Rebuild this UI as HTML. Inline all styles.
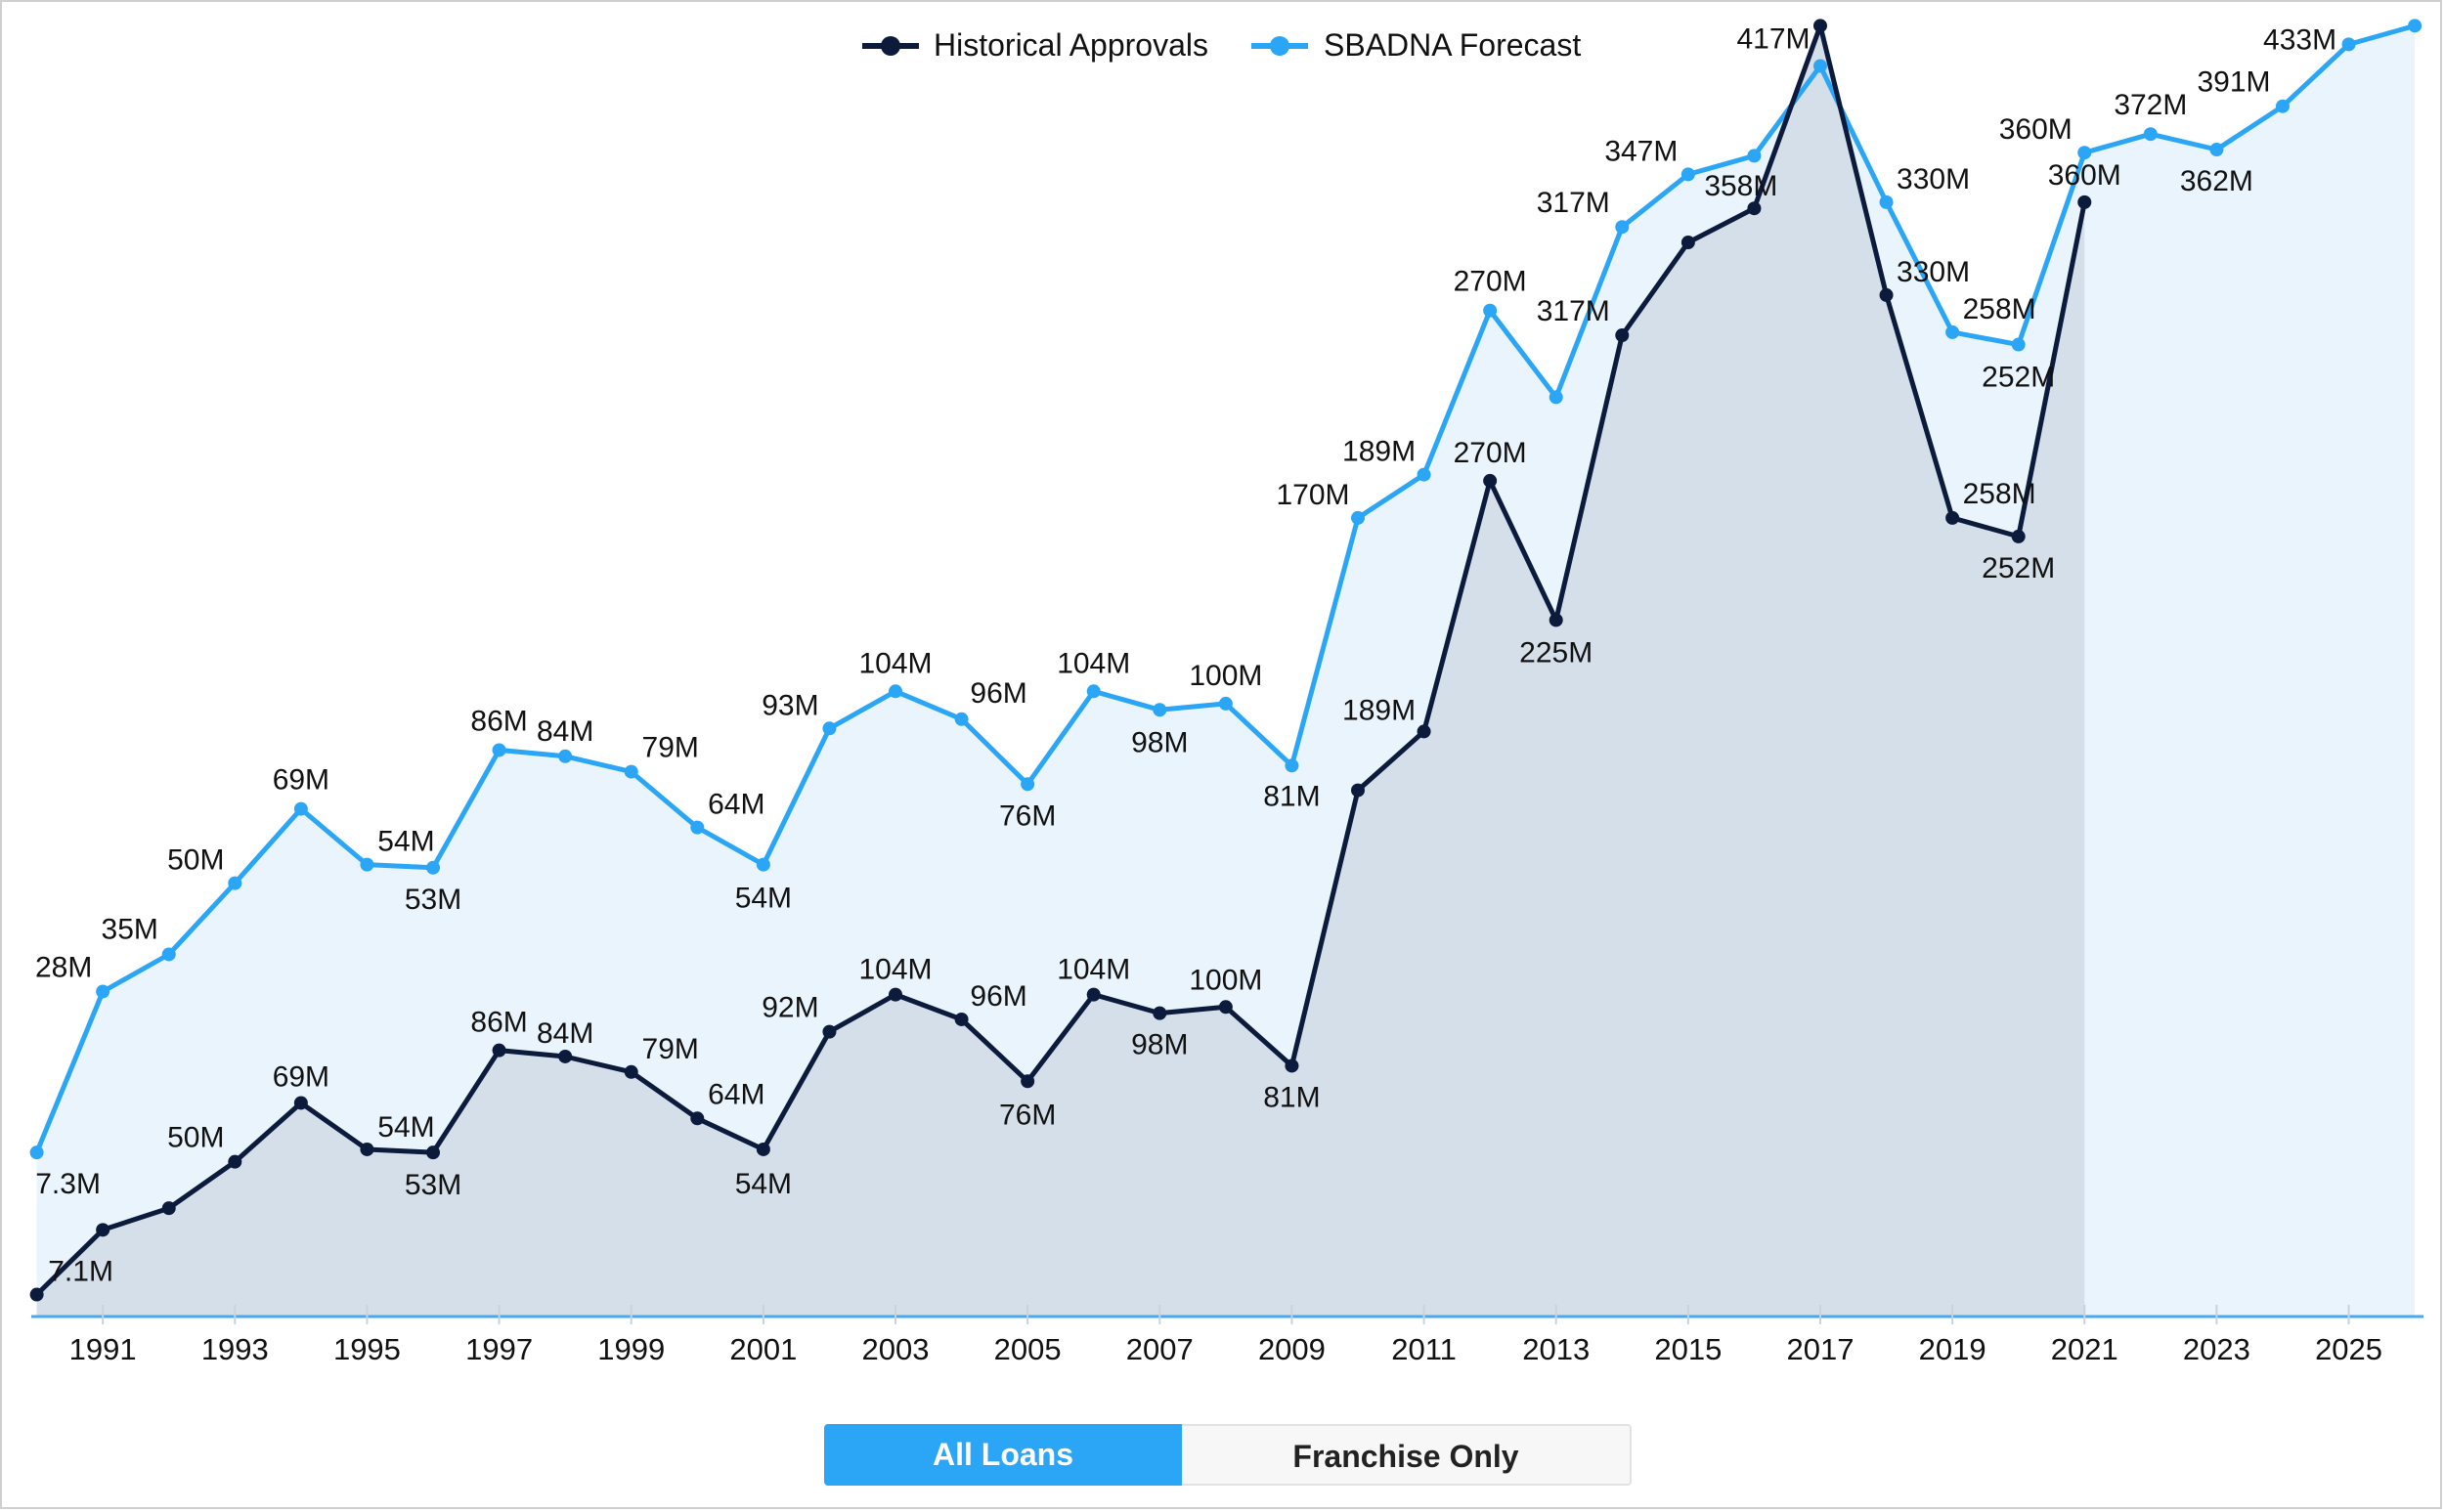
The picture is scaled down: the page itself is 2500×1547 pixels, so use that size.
<!DOCTYPE html>
<html><head><meta charset="utf-8"><style>
html,body{margin:0;padding:0;background:#fff;}
#wrap{position:relative;width:2500px;height:1547px;overflow:hidden;font-family:"Liberation Sans",sans-serif;}
svg{position:absolute;left:0;top:0;}
.btn{position:absolute;top:1457px;height:63px;line-height:63px;text-align:center;font-size:32px;font-weight:bold;box-sizing:border-box;}
</style></head><body>
<div id="wrap">
<svg id="chart" width="2500" height="1547"></svg>
<div class="btn" style="left:843px;width:366px;background:#2ba6f6;color:#fff;border-radius:4px 0 0 4px;">All Loans</div>
<div class="btn" style="left:1209px;width:460px;background:#f7f7f7;color:#222;border:2px solid #e2e2e2;border-left:none;border-radius:0 4px 4px 0;">Franchise Only</div>
</div>
<script>
const years = [1990,1991,1992,1993,1994,1995,1996,1997,1998,1999,2000,2001,2002,2003,2004,2005,2006,2007,2008,2009,2010,2011,2012,2013,2014,2015,2016,2017,2018,2019,2020,2021,2022,2023,2024,2025,2026];
const historical = [7.1,28,35,50,69,54,53,86,84,79,64,54,92,104,96,76,104,98,100,81,170,189,270,225,317,347,358,417,330,258,252,360];
const forecast = [53,105,117,140,164,146,145,183,181,176,158,146,190,202,193,172,202,196,198,178,258,272,325,297,352,369,375,404,360,318,314,376,382,377,391,411,417];
const tickYears = [1991,1993,1995,1997,1999,2001,2003,2005,2007,2009,2011,2013,2015,2017,2019,2021,2023,2025];
// labels: [yearIndex, text, dx, dy]
const histLabels = [[0,"7.1M",45,-24],[3,"50M",-40,-25],[4,"69M",0,-27],[5,"54M",40,-23],[6,"53M",0,33],[7,"86M",0,-29],[8,"84M",0,-24],[9,"79M",40,-24],[10,"64M",40,-25],[11,"54M",0,35],[12,"92M",-40,-25],[13,"104M",0,-26],[14,"96M",38,-24],[15,"76M",0,34],[16,"104M",0,-26],[17,"98M",0,32],[18,"100M",0,-28],[19,"81M",0,32],[21,"189M",-46,-22],[22,"270M",0,-29],[23,"225M",0,33],[24,"317M",-50,-25],[25,"358M",54,-58],[27,"417M",-48,13],[28,"330M",48,-24],[29,"258M",48,-25],[30,"252M",0,32],[31,"360M",0,-28]];
const fcLabels = [[0,"7.3M",32,32],[1,"28M",-40,-25],[2,"35M",-40,-26],[3,"50M",-40,-24],[4,"69M",0,-30],[5,"54M",40,-24],[6,"53M",0,32],[7,"86M",0,-30],[8,"84M",0,-26],[9,"79M",40,-25],[10,"64M",40,-24],[11,"54M",0,34],[12,"93M",-40,-24],[13,"104M",0,-29],[14,"96M",38,-27],[15,"76M",0,32],[16,"104M",0,-29],[17,"98M",0,33],[18,"100M",0,-29],[19,"81M",0,31],[20,"170M",-46,-24],[21,"189M",-46,-24],[22,"270M",0,-30],[24,"317M",-50,-25],[25,"347M",-48,-24],[28,"330M",48,-24],[29,"258M",48,-24],[30,"252M",0,33],[31,"360M",-50,-24],[32,"372M",0,-30],[33,"362M",0,32],[34,"391M",-50,-25],[35,"433M",-50,-5]];

const NS="http://www.w3.org/2000/svg";
const svg=document.getElementById('chart');
const X0=37.6, XS=67.57, Y0=1347, YS=3.167;
function xPos(yr){return X0+(yr-1990)*XS;}
function yPos(v){return Y0-v*YS;}
function mk(tag,attrs,parent){const e=document.createElementNS(NS,tag);for(const k in attrs)e.setAttribute(k,attrs[k]);(parent||svg).appendChild(e);return e;}

let f=mk('rect',{x:1,y:1,width:2496,height:1542,fill:'none',stroke:'#cfcfcf','stroke-width':2});



function pts(arr){return arr.map((v,i)=>xPos(years[i]).toFixed(1)+','+yPos(v).toFixed(1));}
function area(arr){const p=pts(arr);const last=years[arr.length-1];return 'M'+xPos(1990)+','+Y0+' L'+p.join(' L')+' L'+xPos(last)+','+Y0+' Z';}

let fa=mk('path',{d:area(forecast),fill:'#eaf4fd'});


let ha=mk('path',{d:area(historical),fill:'#d5dfea'});



let ax=mk('line',{x1:32,x2:2479,y1:Y0,y2:Y0,stroke:'#49a9f0','stroke-width':3});


tickYears.forEach(yr=>{
  const t=mk('line',{x1:xPos(yr),x2:xPos(yr),y1:Y0-12,y2:Y0+8,stroke:'#c9d3df','stroke-width':2});
  
  
  const l=mk('text',{x:xPos(yr),y:1391,'text-anchor':'middle','font-size':31,fill:'#111'});
  l.textContent=yr;
  
  
});

function series(arr,color,name){
  const pl=mk('polyline',{points:pts(arr).join(' '),fill:'none',stroke:color,'stroke-width':5,'stroke-linejoin':'round'});
  
  
  arr.forEach((v,i)=>{
    const c=mk('circle',{cx:xPos(years[i]),cy:yPos(v),r:7,fill:color});
    
    
  });
}
series(forecast,'#2ba6f6','forecast');
series(historical,'#0c1a3c','historical');

function labels(list,arr,name){
  list.forEach(([i,txt,dx,dy])=>{
    const t=mk('text',{x:xPos(years[i])+dx,y:yPos(arr[i])+dy+10,'text-anchor':'middle','font-size':30,fill:'#111'});
    t.textContent=txt;
    
    
  });
}
labels(fcLabels,forecast,'forecast');
labels(histLabels,historical,'historical');

const lg=mk('g',{});


[[882,955,'#0c1a3c','Historical Approvals','legend-historical'],[1280,1354,'#2ba6f6','SBADNA Forecast','legend-forecast']].forEach(([sx,tx,c,txt,n])=>{
  const g=mk('g',{},lg);
  
  
  mk('line',{x1:sx,x2:sx+58,y1:47,y2:47,stroke:c,'stroke-width':6},g);
  mk('circle',{cx:sx+29,cy:47,r:10,fill:c},g);
  const t=mk('text',{x:tx,y:57,'font-size':32,fill:'#111'},g);
  t.textContent=txt;
});
</script>
</body></html>
